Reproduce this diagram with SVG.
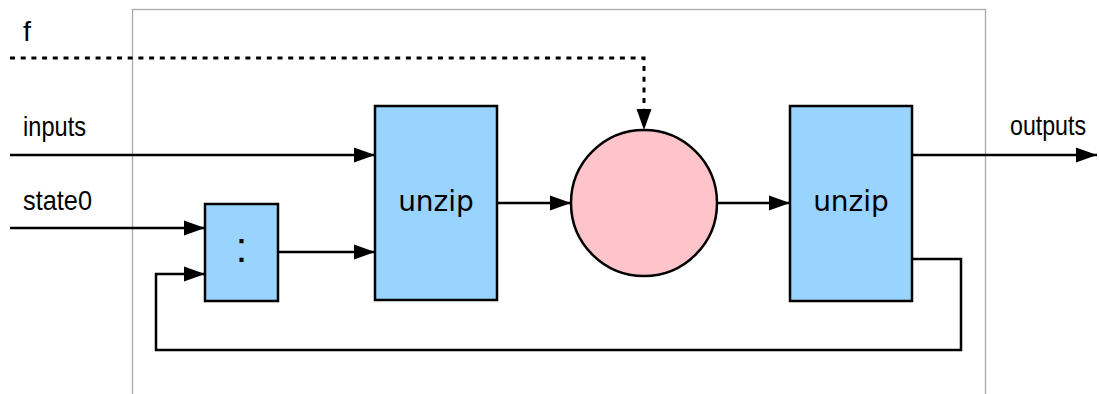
<svg xmlns="http://www.w3.org/2000/svg" width="1099" height="394" viewBox="0 0 1099 394">
<defs>
<marker id="arr" markerUnits="userSpaceOnUse" markerWidth="22" markerHeight="17" refX="21" refY="8" orient="auto">
<path d="M0,0.5 L21,8 L0,15.5 z" fill="#000"/>
</marker>
<style>
.frame{fill:none;stroke:#aaaaaa;stroke-width:1.3}
.box{fill:#99d3ff;stroke:#000;stroke-width:2.5}
.circ{fill:#ffc4ca;stroke:#000;stroke-width:2.5}
.wire{fill:none;stroke:#000;stroke-width:2.5}
.dot{fill:none;stroke:#000;stroke-width:3;stroke-dasharray:5 5.7}
.lbl{font-family:"Liberation Sans",Arial,sans-serif;font-size:28px;fill:#000}
.name{font-family:"DejaVu Sans",sans-serif;font-size:28px;fill:#000}
</style>
</defs>
<rect class="frame" x="132.5" y="9.5" width="853" height="420"/>
<g id="labels">
<text class="lbl" x="23" y="41" textLength="8" lengthAdjust="spacingAndGlyphs">f</text>
<text class="lbl" x="23" y="136" textLength="63" lengthAdjust="spacingAndGlyphs">inputs</text>
<text class="lbl" x="23" y="210" textLength="69" lengthAdjust="spacingAndGlyphs">state0</text>
<text class="lbl" x="1010" y="135" textLength="76" lengthAdjust="spacingAndGlyphs">outputs</text>
</g>
<g id="cons">
<rect class="box" x="205" y="204" width="73" height="97"/>
<text class="lbl" x="241.5" y="262" text-anchor="middle" style="font-size:43px">:</text>
</g>
<g id="unzip1">
<rect class="box" x="375" y="106" width="122" height="194"/>
<text class="name" x="436" y="211" text-anchor="middle">unzip</text>
</g>
<g id="func">
<circle class="circ" cx="644" cy="203" r="73"/>
</g>
<g id="unzip2">
<rect class="box" x="790" y="106" width="122" height="195"/>
<text class="name" x="851" y="211" text-anchor="middle">unzip</text>
</g>
<g id="connectors">
<path class="dot" d="M10,58 H644 V130" marker-end="url(#arr)"/>
<path class="wire" d="M10,155 H375" marker-end="url(#arr)"/>
<path class="wire" d="M10,228 H205" marker-end="url(#arr)"/>
<path class="wire" d="M278,252 H375" marker-end="url(#arr)"/>
<path class="wire" d="M497,203 H571" marker-end="url(#arr)"/>
<path class="wire" d="M717,203 H790" marker-end="url(#arr)"/>
<path class="wire" d="M912,155 H1097" marker-end="url(#arr)"/>
<path class="wire" d="M912,259 H961 V350 H156 V274 H205" marker-end="url(#arr)"/>
</g>
</svg>
